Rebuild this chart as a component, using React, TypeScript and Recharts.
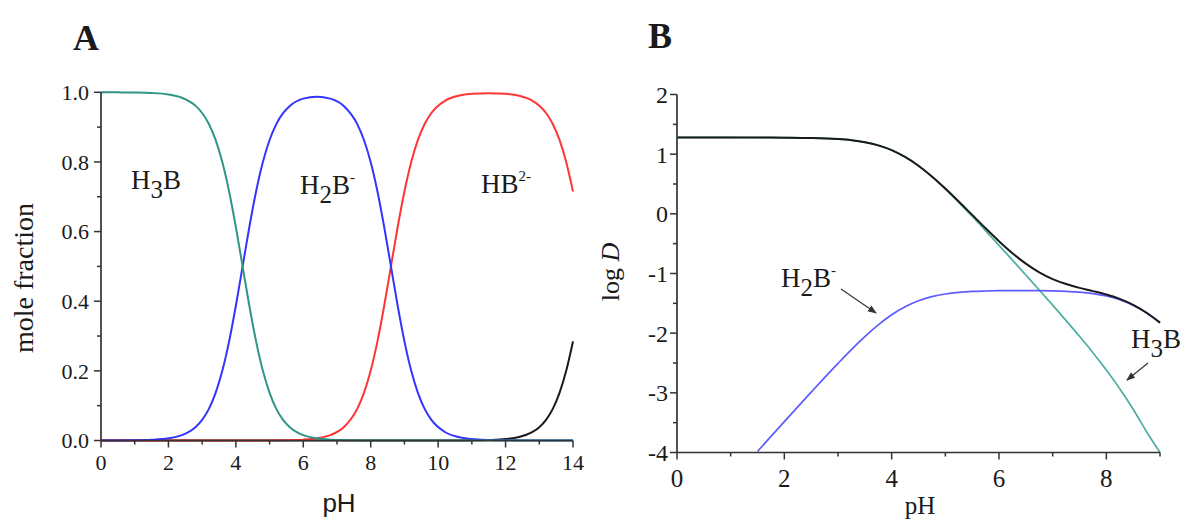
import React from 'react';
import { LineChart, Line, XAxis, YAxis } from 'recharts';

const SERIF = '"Liberation Serif", "Times New Roman", serif';
const SANS = '"Liberation Sans", Arial, sans-serif';
const AXIS = '#333333';

// ---------- Panel A: mole fraction vs pH ----------
const phA = [0, 0.5, 1, 1.5, 2, 2.4, 2.8, 3.0, 3.2, 3.4, 3.6, 3.8, 4.0, 4.2, 4.4, 4.6, 4.8, 5.0, 5.2, 5.4, 5.6, 6.0, 6.4, 6.8, 7.2, 7.6, 7.8, 8.0, 8.2, 8.4, 8.6, 8.8, 9.0, 9.2, 9.4, 9.6, 9.8, 10.2, 10.6, 11.0, 11.5, 12.0, 12.4, 12.8, 13.0, 13.2, 13.4, 13.6, 13.8, 14.0];
const fracH3B = [1.0, 0.9998, 0.9994, 0.998, 0.9937, 0.9844, 0.9617, 0.9406, 0.9091, 0.8632, 0.7992, 0.7153, 0.6131, 0.5, 0.3869, 0.2847, 0.2008, 0.1368, 0.0909, 0.0594, 0.0383, 0.0156, 0.0063, 0.0025, 0.001, 0.0004, 0.0002, 0.0001, 0, 0, 0, 0, 0, 0, 0, 0, 0, 0, 0, 0, 0, 0, 0, 0, 0, 0, 0, 0, 0, 0];
const fracH2B = [0.0001, 0.0002, 0.0006, 0.002, 0.0063, 0.0156, 0.0383, 0.0594, 0.0909, 0.1368, 0.2008, 0.2847, 0.3869, 0.5, 0.6131, 0.7153, 0.799, 0.863, 0.9087, 0.94, 0.9607, 0.9819, 0.9874, 0.9819, 0.9607, 0.9087, 0.863, 0.799, 0.7153, 0.6131, 0.5, 0.3869, 0.2847, 0.2008, 0.1368, 0.0909, 0.0594, 0.0245, 0.0099, 0.004, 0.0013, 0.0004, 0.0002, 0.0001, 0, 0, 0, 0, 0, 0];
const fracHB = [0, 0, 0, 0, 0, 0, 0, 0, 0, 0, 0, 0, 0, 0, 0, 0.0001, 0.0001, 0.0002, 0.0004, 0.0006, 0.001, 0.0025, 0.0063, 0.0156, 0.0383, 0.0909, 0.1368, 0.2008, 0.2847, 0.3869, 0.5, 0.6131, 0.7153, 0.7992, 0.8632, 0.9091, 0.9406, 0.9754, 0.9899, 0.9956, 0.9974, 0.9956, 0.9899, 0.9755, 0.9617, 0.9406, 0.9091, 0.8632, 0.7992, 0.7153];
const fracB = [0, 0, 0, 0, 0, 0, 0, 0, 0, 0, 0, 0, 0, 0, 0, 0, 0, 0, 0, 0, 0, 0, 0, 0, 0, 0, 0, 0, 0, 0, 0, 0, 0, 0, 0, 0, 0, 0.0001, 0.0002, 0.0004, 0.0013, 0.004, 0.0099, 0.0245, 0.0383, 0.0594, 0.0909, 0.1368, 0.2008, 0.2847];
const ticksAX = [0, 1, 2, 3, 4, 5, 6, 7, 8, 9, 10, 11, 12, 13, 14];
const ticksAY = [0, 0.1, 0.2, 0.3, 0.4, 0.5, 0.6, 0.7, 0.8, 0.9, 1.0];

// ---------- Panel B: log D vs pH ----------
const phB = [0, 0.5, 1, 1.5, 2, 2.5, 3, 3.25, 3.5, 3.75, 4, 4.25, 4.5, 4.75, 5, 5.25, 5.5, 5.75, 6, 6.25, 6.5, 6.75, 7, 7.25, 7.5, 7.75, 8, 8.25, 8.5, 8.75, 9];
const logDTotal = [1.28, 1.28, 1.28, 1.279, 1.277, 1.271, 1.253, 1.234, 1.201, 1.148, 1.068, 0.954, 0.806, 0.626, 0.423, 0.206, -0.018, -0.242, -0.458, -0.659, -0.835, -0.981, -1.094, -1.177, -1.241, -1.295, -1.353, -1.426, -1.526, -1.658, -1.823];
const logDH3B = [1.28, 1.28, 1.28, 1.279, 1.277, 1.271, 1.253, 1.234, 1.201, 1.148, 1.067, 0.953, 0.804, 0.622, 0.416, 0.193, -0.041, -0.283, -0.528, -0.776, -1.026, -1.277, -1.531, -1.789, -2.053, -2.327, -2.617, -2.93, -3.274, -3.652, -4.0];
const logDH2B = [null, null, null, -3.981, -3.483, -2.989, -2.507, -2.276, -2.059, -1.862, -1.692, -1.557, -1.456, -1.388, -1.344, -1.317, -1.301, -1.293, -1.288, -1.286, -1.286, -1.287, -1.291, -1.299, -1.313, -1.337, -1.377, -1.44, -1.534, -1.662, -1.826];
const ticksBX = [0, 1, 2, 3, 4, 5, 6, 7, 8, 9];
const ticksBY = [-4, -3.5, -3, -2.5, -2, -1.5, -1, -0.5, 0, 0.5, 1, 1.5, 2];

const dataA = phA.map((p, i) => ({ pH: p, H3B: fracH3B[i], H2B: fracH2B[i], HB: fracHB[i], B: fracB[i] }));
const dataB = phB.map((p, i) => ({ pH: p, total: logDTotal[i], H3B: logDH3B[i], H2B: logDH2B[i] }));

const XTick = (props: any) => {
  const { x, y, payload, isMajor, fmt, fontSize, labelOffset } = props;
  const v = payload.value;
  const major = isMajor(v);
  return (
    <g>
      <line x1={x} x2={x} y1={y} y2={y + (major ? 7 : 4)} stroke={AXIS} strokeWidth={1.5} />
      {major && (
        <text x={x} y={y + labelOffset} textAnchor="middle" fontFamily={SERIF} style={{ fontFamily: SERIF }} fontSize={fontSize} fill="#1a1a1a">
          {fmt(v)}
        </text>
      )}
    </g>
  );
};

const YTick = (props: any) => {
  const { x, y, payload, isMajor, fmt, fontSize, labelGap } = props;
  const v = payload.value;
  const major = isMajor(v);
  return (
    <g>
      <line x1={x} x2={x - (major ? 7 : 4)} y1={y} y2={y} stroke={AXIS} strokeWidth={1.5} />
      {major && (
        <text x={x - labelGap} y={y} dy="0.35em" textAnchor="end" fontFamily={SERIF} style={{ fontFamily: SERIF }} fontSize={fontSize} fill="#1a1a1a">
          {fmt(v)}
        </text>
      )}
    </g>
  );
};

const axisLineStyle = { stroke: AXIS, strokeWidth: 1.7 };

const isEven = (v: number) => Math.round(v) % 2 === 0;
const isEvenTenth = (v: number) => Math.round(v * 10) % 2 === 0;
const isInt = (v: number) => Math.abs(v - Math.round(v)) < 1e-6;

function PanelA() {
  return (
    <div style={{ position: 'absolute', left: 0, top: 0 }}>
      <LineChart width={600} height={520} data={dataA} margin={{ top: 92.3, left: 61, right: 27, bottom: 49.5 }}>
        <XAxis
          dataKey="pH"
          type="number"
          domain={[0, 14]}
          ticks={ticksAX}
          interval={0}
          height={30}
          tickSize={0}
          tickMargin={0}
          tickLine={false}
          axisLine={axisLineStyle}
          tick={(p: any) => <XTick {...p} isMajor={isEven} fmt={(v: number) => String(v)} fontSize={22} labelOffset={29.5} />}
        />
        <YAxis
          type="number"
          domain={[0, 1]}
          ticks={ticksAY}
          interval={0}
          width={40}
          tickSize={0}
          tickMargin={0}
          tickLine={false}
          axisLine={axisLineStyle}
          tick={(p: any) => <YTick {...p} isMajor={isEvenTenth} fmt={(v: number) => v.toFixed(1)} fontSize={22} labelGap={12} />}
        />
        <Line dataKey="B" type="monotone" stroke="#1a1a1a" strokeWidth={2} dot={false} isAnimationActive={false} />
        <Line dataKey="HB" type="monotone" stroke="#ff3535" strokeWidth={2} dot={false} isAnimationActive={false} />
        <Line dataKey="H2B" type="monotone" stroke="#3434ff" strokeWidth={2} dot={false} isAnimationActive={false} />
        <Line dataKey="H3B" type="monotone" stroke="#2f9585" strokeWidth={2} dot={false} isAnimationActive={false} />
      </LineChart>
    </div>
  );
}

function PanelB() {
  return (
    <div style={{ position: 'absolute', left: 600, top: 0 }}>
      <LineChart width={590} height={520} data={dataB} margin={{ top: 94.5, left: 37, right: 30, bottom: 37.5 }}>
        <XAxis
          dataKey="pH"
          type="number"
          domain={[0, 9]}
          ticks={ticksBX}
          interval={0}
          height={30}
          tickSize={0}
          tickMargin={0}
          tickLine={false}
          axisLine={axisLineStyle}
          tick={(p: any) => <XTick {...p} isMajor={isEven} fmt={(v: number) => String(v)} fontSize={25} labelOffset={34} />}
        />
        <YAxis
          type="number"
          domain={[-4, 2]}
          ticks={ticksBY}
          interval={0}
          width={40}
          tickSize={0}
          tickMargin={0}
          tickLine={false}
          axisLine={axisLineStyle}
          tick={(p: any) => <YTick {...p} isMajor={isInt} fmt={(v: number) => String(v)} fontSize={24} labelGap={9} />}
        />
        <Line dataKey="H3B" type="monotone" stroke="#4aaea0" strokeWidth={1.7} dot={false} isAnimationActive={false} />
        <Line dataKey="H2B" type="monotone" stroke="#5c5cff" strokeWidth={1.7} dot={false} isAnimationActive={false} />
        <Line dataKey="total" type="monotone" stroke="#1a1a1a" strokeWidth={2} dot={false} isAnimationActive={false} />
      </LineChart>
    </div>
  );
}

function Overlay() {
  const t = { fontFamily: SERIF, fill: '#1a1a1a' } as const;
  return (
    <svg width={1190} height={520} style={{ position: 'absolute', left: 0, top: 0, pointerEvents: 'none' }}>
      <defs>
        <marker id="ah" markerWidth={9} markerHeight={8} refX={8} refY={4} orient="auto" markerUnits="userSpaceOnUse">
          <path d="M0,0.5 L9,4 L0,7.5 z" fill="#333" />
        </marker>
      </defs>
      {/* Panel letters */}
      <text x={73} y={50} {...t} fontSize={36} fontWeight="bold">A</text>
      <text x={648} y={48} {...t} fontSize={36} fontWeight="bold">B</text>

      {/* Panel A axis titles */}
      <text transform="translate(33,278) rotate(-90)" textAnchor="middle" {...t} fontSize={28}>mole fraction</text>
      <text x={339} y={512} textAnchor="middle" fontFamily={SANS} fill="#1a1a1a" fontSize={26}>pH</text>

      {/* Panel A species labels */}
      <text x={131} y={189} {...t} fontSize={27}>
        H<tspan dy={9} fontSize={25}>3</tspan><tspan dy={-9}>B</tspan>
      </text>
      <text x={300} y={194} {...t} fontSize={27}>
        H<tspan dy={9} fontSize={25}>2</tspan><tspan dy={-9}>B</tspan><tspan dy={-12} fontSize={15}>-</tspan>
      </text>
      <text x={481} y={193} {...t} fontSize={27}>
        HB<tspan dy={-12} fontSize={15}>2-</tspan>
      </text>

      {/* Panel B axis titles */}
      <text transform="translate(619,272) rotate(-90)" textAnchor="middle" {...t} fontSize={26}>
        log <tspan fontStyle="italic">D</tspan>
      </text>
      <text x={920} y={514} textAnchor="middle" {...t} fontSize={25}>pH</text>

      {/* Panel B annotations */}
      <text x={781} y={287} {...t} fontSize={27}>
        H<tspan dy={9} fontSize={25}>2</tspan><tspan dy={-9}>B</tspan><tspan dy={-12} fontSize={15}>-</tspan>
      </text>
      <line x1={841} y1={289} x2={876} y2={313} stroke="#333" strokeWidth={1.2} markerEnd="url(#ah)" />
      <text x={1131} y={348} {...t} fontSize={27}>
        H<tspan dy={9} fontSize={25}>3</tspan><tspan dy={-9}>B</tspan>
      </text>
      <line x1={1148} y1={363} x2={1127} y2={380} stroke="#333" strokeWidth={1.2} markerEnd="url(#ah)" />
    </svg>
  );
}

export default function App() {
  return (
    <div style={{ position: 'absolute', left: 0, top: 0, width: 1190, height: 520, background: '#fff', overflow: 'hidden' }}>
      <PanelA />
      <PanelB />
      <Overlay />
    </div>
  );
}
